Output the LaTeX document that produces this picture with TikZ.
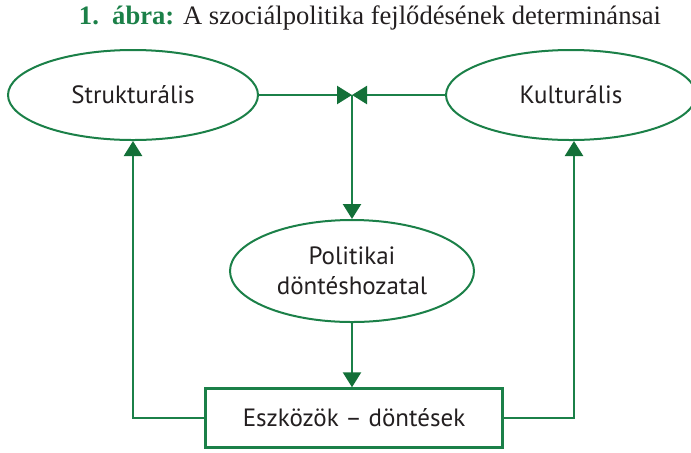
\documentclass[tikz,border=0pt]{standalone}
\usepackage{fontspec}
\setmainfont{Liberation Serif}
\setsansfont{PT Sans}
\usepackage{tikz}
\usetikzlibrary{arrows.meta, calc, shapes.geometric}
\definecolor{primary}{HTML}{1B8048}
\definecolor{tipgreen}{HTML}{137038}
\definecolor{ink}{HTML}{231F20}
\tikzset{
  det arrow/.style={
    -{Triangle[length=7.5pt, width=9pt, color=tipgreen]},
    line width=1.2pt,
    color=primary
  },
  det line/.style={line width=1.2pt, color=primary}
}

\begin{document}
\begin{tikzpicture}[x=0.5pt, y=-0.5pt,
  factor/.style={ellipse, draw=primary, line width=1pt, fill=white,
    minimum width=125pt, minimum height=45pt, font=\sffamily\fontsize{12.5}{15}\selectfont,
    text=ink, align=center, inner sep=0pt},
  tool/.style={rectangle, draw=primary, line width=1.2pt, fill=white,
    minimum width=148.5pt, minimum height=29.5pt, font=\sffamily\fontsize{12.5}{15}\selectfont,
    text=ink, inner sep=0pt}]

  \useasboundingbox (0,0) rectangle (691,452);

  % ====== TITLE ======
  \node[font=\fontsize{13.3}{15}\selectfont, text=ink] (title) at (370, 18)
    {\textcolor{primary}{\textbf{1.\ \ ábra:}} A szociálpolitika fejlődésének determinánsai};

  % ====== DETERMINANTS ======
  \node[factor] (struct) at (133, 95) {Strukturális};
  \node[factor] (cult) at (571, 95) {Kulturális};
  \coordinate (join) at (352, 95);

  % ====== DECISION ======
  \node[factor, minimum width=122pt, minimum height=51pt] (pol) at (352, 271)
    {Politikai\\döntéshozatal};

  % ====== TOOLS ======
  \node[tool] (tools) at (354, 418) {Eszközök -- döntések};

  % ====== CONNECTORS ======
  \draw[det arrow] (struct.east) -- (join);
  \draw[det arrow] (cult.west) -- (join);
  \draw[det arrow] (join) -- (pol.north);
  \draw[det arrow] (pol.south) -- (tools.north -| pol.south);

  % feedback to the two determinants
  \draw[det arrow] (tools.west) -| (struct.south);
  \draw[det arrow] (tools.east) -| ($(cult.south) + (3, 0)$);

\end{tikzpicture}
\end{document}
